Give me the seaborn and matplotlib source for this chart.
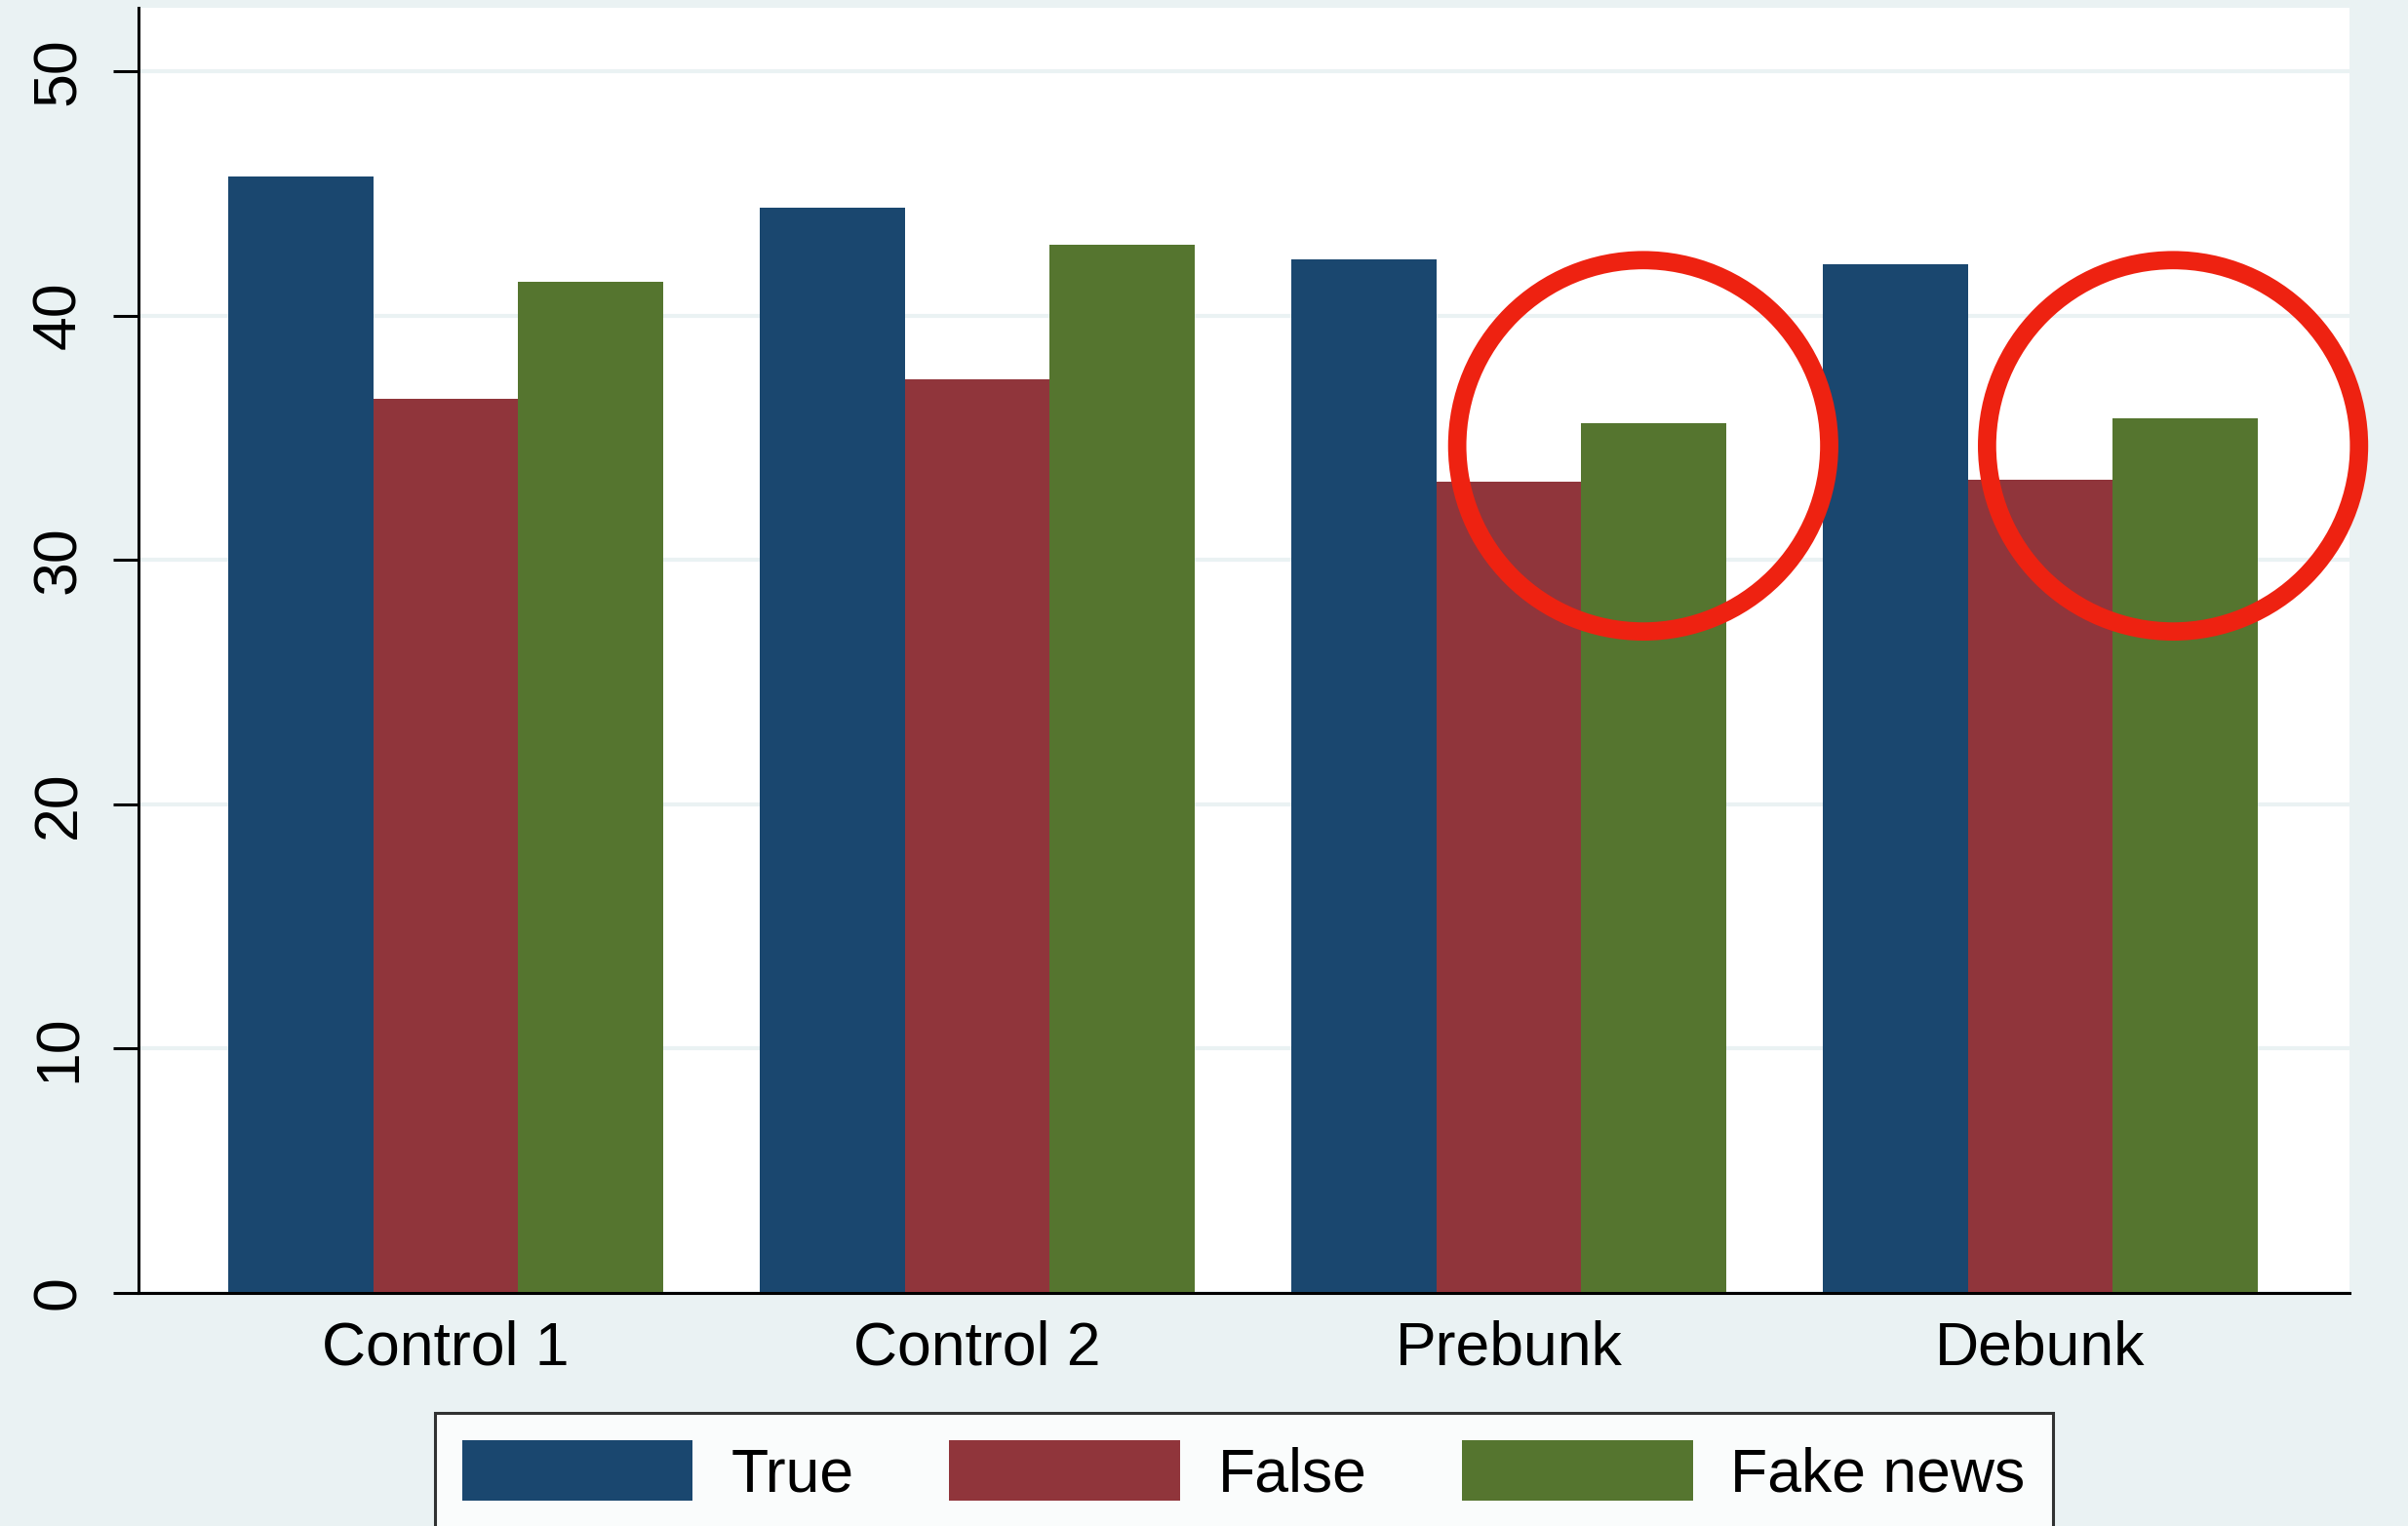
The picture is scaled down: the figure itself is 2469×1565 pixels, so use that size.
import pandas as pd
import numpy as np
import matplotlib
matplotlib.use("Agg")
import matplotlib.pyplot as plt
from matplotlib.patches import Ellipse
import seaborn as sns

'''DATA'''
groups = ["Control 1", "Control 2", "Prebunk", "Debunk"]
series = ["True", "False", "Fake news"]
true_vals = [45.7, 44.4, 42.3, 42.1]
false_vals = [36.6, 37.4, 33.2, 33.3]
fake_vals = [41.4, 42.9, 35.6, 35.8]
colors = ["#1A476F", "#90353B", "#55752F"]

df = pd.DataFrame({
    "group": groups * 3,
    "kind": [s for s in series for _ in groups],
    "value": true_vals + false_vals + fake_vals,
})

'''STYLE'''
sns.set_style("white")
plt.rcParams["font.family"] = ["Liberation Sans", "DejaVu Sans"]
plt.rcParams["text.color"] = "black"
bg = "#EAF2F3"

fig = plt.figure(figsize=(24.69, 15.65), dpi=100, facecolor=bg)
ax = fig.add_axes([0.0574, 0.1528, 0.9183, 0.8421])
ax.set_facecolor("white")

sns.barplot(data=df, x="group", y="value", hue="kind", order=groups,
            hue_order=series, palette=colors, saturation=1, width=0.818,
            linewidth=0, ax=ax)

'''AXES'''
ax.set_xlim(-0.579, 3.582)
ax.set_ylim(0, 52.6)
ax.set_yticks(np.arange(0, 51, 10))
ax.set_axisbelow(True)
ax.grid(axis="y", color=bg, linewidth=3)
ax.grid(axis="x", visible=False)
ax.set_xlabel("")
ax.set_ylabel("")
for side in ["top", "right"]:
    ax.spines[side].set_visible(False)
for side in ["left", "bottom"]:
    ax.spines[side].set_color("black")
    ax.spines[side].set_linewidth(2.2)
ax.tick_params(axis="y", length=19, width=2.2, pad=18, labelsize=45,
               labelrotation=90, left=True, color="black", labelcolor="black")
ax.tick_params(axis="x", length=0, pad=20, labelsize=45, labelcolor="black")
for lab in ax.get_yticklabels():
    lab.set_va("center")

# highlight circles around the fake news bars
for cx in [2.253, 3.25]:
    ax.add_patch(Ellipse((cx, 34.67), 0.70, 15.2, fill=False,
                         edgecolor="#EE2211", linewidth=13.5, zorder=5,
                         clip_on=False))

'''LEGEND'''
handles, labels = ax.get_legend_handles_labels()
ax.get_legend().remove()
leg = fig.legend(handles, labels, loc="upper center",
                 bbox_to_anchor=(0.5166, 0.0741), ncol=3, fontsize=45,
                 frameon=True, fancybox=False, edgecolor="black",
                 handlelength=3.78, handleheight=1.15, handletextpad=0.62,
                 columnspacing=1.57, borderpad=0.45, borderaxespad=0)
leg.get_frame().set_linewidth(2.2)
leg.get_frame().set_facecolor("white")

plt.savefig("out.png", dpi=100, facecolor=bg)
